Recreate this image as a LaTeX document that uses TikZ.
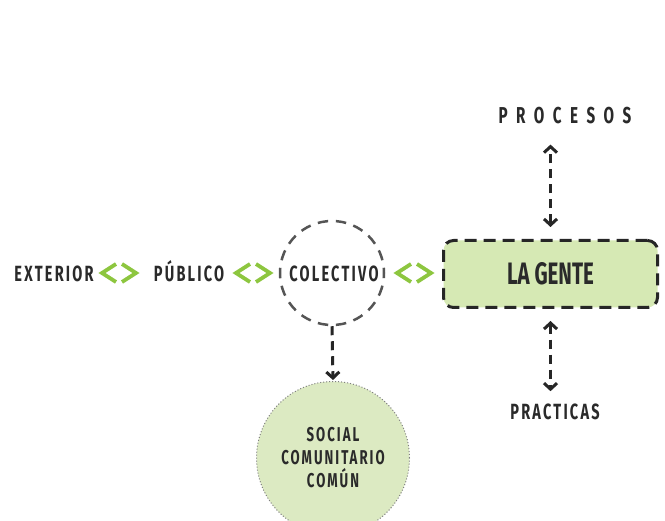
\documentclass[tikz,border=0pt]{standalone}
\usepackage{fontspec}
\setmainfont{Fira Sans}
\newfontfamily\cond[FakeStretch=0.66]{Fira Sans}
\usetikzlibrary{arrows.meta}
\definecolor{txt}{HTML}{2A2A2A}
\definecolor{lgreen}{HTML}{8DC63F}
\definecolor{boxfill}{HTML}{D6E9B4}
\definecolor{circfill}{HTML}{DCEAC2}
\definecolor{dgray}{HTML}{555555}
\tikzset{
  lab/.style={text=txt, font=\cond\bfseries\fontsize{22}{23}\selectfont\addfontfeatures{LetterSpace=10}, inner sep=1pt, anchor=base},
  spaced/.style={font=\cond\bfseries\fontsize{23}{24}\selectfont\addfontfeatures{LetterSpace=37}},
  chev/.pic={\draw[draw=lgreen, line width=3.8pt, line join=miter, miter limit=10] (-3,-9) -- (-17,0) -- (-3,9) (3,-9) -- (17,0) -- (3,9);},
  dcirc/.style={circle, draw=dgray, line width=2.5pt, dash pattern=on 10.5pt off 7.65pt, dash phase=5.25pt, minimum size=104pt, inner sep=0pt},
  gente/.style={draw=black!85, fill=boxfill, line width=3pt, dash pattern=on 12pt off 7pt, rounded corners=10pt, minimum width=214pt, minimum height=67pt, text=txt, font=\cond\bfseries\fontsize{31}{32}\selectfont},
  social/.style={circle, fill=circfill, draw=black!50, line width=1pt, dotted, minimum size=153pt, inner sep=0pt, align=center, text=txt, font=\cond\bfseries\fontsize{20}{23}\selectfont\addfontfeatures{LetterSpace=10}},
  darr/.style={draw=black!85, line width=3pt, dash pattern=on 9pt off 6pt, >={Straight Barb[length=6pt,width=13pt,line width=3pt]}, <->},
  sarr/.style={draw=black!85, line width=3pt, dash pattern=on 9pt off 6pt, >={Straight Barb[length=6pt,width=13pt,line width=3pt]}, ->}
}
\begin{document}
\begin{tikzpicture}[x=1pt,y=-1pt]
\useasboundingbox[fill=white] (0,0) rectangle (665,521);
\node[lab] (ext) at (54,282) {EXTERIOR};
\pic at (119,273) {chev};
\node[lab] (pub) at (189,282) {PÚBLICO};
\pic at (253,273) {chev};
\node[dcirc] (col) at (332,273) {};
\node[lab] (colt) at (334,282) {COLECTIVO};
\pic at (414,273) {chev};
\node[gente] (gente) at (550.5,274) {LA GENTE};
\node[lab, spaced] (proc) at (565,124) {PROCESOS};
\node[lab] (prac) at (555,420) {PRACTICAS};
\node[social] (soc) at (333,458) {SOCIAL\\COMUNITARIO\\COMÚN};
\draw[darr, shorten <=12pt, shorten >=19pt] (gente.north) -- (gente.north |- proc.south);
\draw[darr, shorten <=12pt, shorten >=12pt] (gente.south) -- (gente.south |- prac.north);
\draw[sarr, shorten >=1pt] (col.south) -- (soc.north);
\end{tikzpicture}
\end{document}
